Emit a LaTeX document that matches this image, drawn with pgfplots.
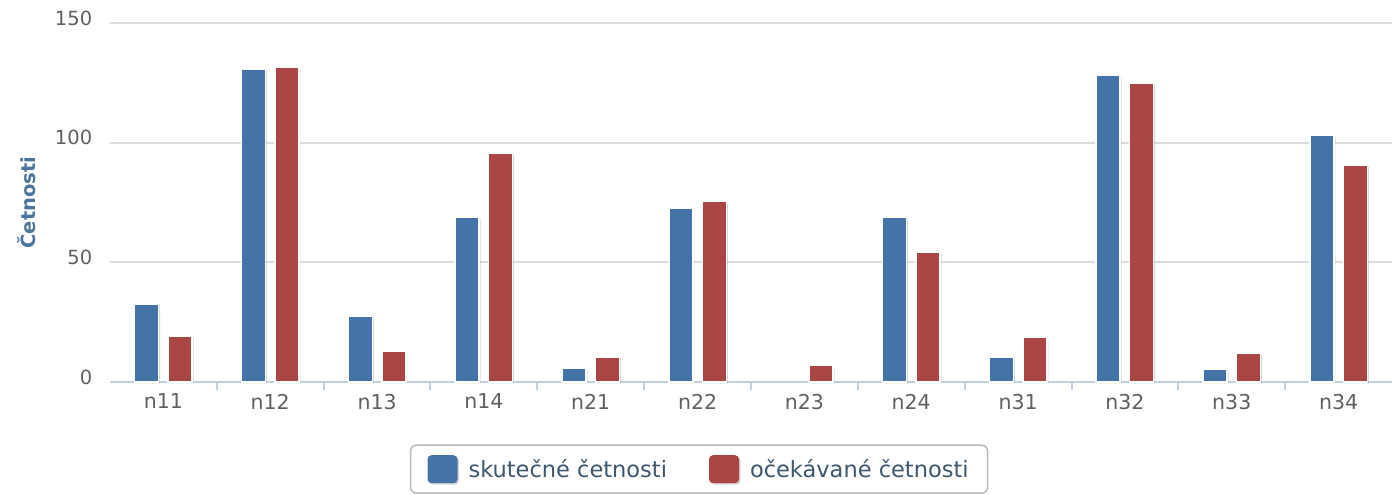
\documentclass[border=0pt]{standalone}
\usepackage{pgfplots}
\pgfplotsset{compat=1.18}
\usepackage{fontspec}
\setmainfont{DejaVu Sans}
\usetikzlibrary{shadows}
\definecolor{hcblue}{HTML}{4572A7}
\definecolor{hcred}{HTML}{AA4643}
\definecolor{axlab}{HTML}{4D759E}
\definecolor{ticklab}{HTML}{606060}
\definecolor{gridc}{HTML}{DCDCDC}
\definecolor{axline}{HTML}{C0D0E0}
\definecolor{legtext}{HTML}{3E576F}
\begin{document}
\begin{tikzpicture}
\begin{axis}[
  scale only axis, width=1282pt, height=359pt,
  xmin=-0.5, xmax=11.5, ymin=0, ymax=150,
  ybar=9.5pt, bar width=24pt,
  axis x line*=bottom, axis y line*=left,
  y axis line style={draw=none},
  x axis line style={draw=axline, line width=2pt, -},
  ytick={0,50,100,150},
  ymajorgrids, major grid style={draw=gridc, line width=2pt},
  ytick style={draw=none},
  yticklabel style={font=\fontsize{19.5}{19.5}\selectfont, text=ticklab, anchor=east, xshift=-10pt, yshift=5pt},
  /pgf/number format/assume math mode=true,
  xtick={0,...,11},
  xticklabels={n11,n12,n13,n14,n21,n22,n23,n24,n31,n32,n33,n34},
  major x tick style={draw=none},
  minor xtick={0.5,1.5,...,10.5},
  minor tick length=8pt, tick align=outside,
  minor x tick style={draw=axline, line width=2pt},
  xticklabel style={font=\fontsize{20.5}{20.5}\selectfont, text=ticklab, yshift=-4pt},
  ylabel={Četnosti},
  ylabel style={font=\bfseries\fontsize{19.5}{19.5}\selectfont, text=axlab, at={(axis description cs:-0.065,0.5)}, anchor=center},
  legend style={at={(axis description cs:0.4595,-0.174)}, anchor=north, legend columns=2,
    draw=gray!55, rounded corners=6pt, line width=1.5pt,
    font=\fontsize{22.5}{22.5}\selectfont, text=legtext, inner xsep=17pt, inner ysep=10pt,
    /tikz/every odd column/.append style={column sep=9pt},
    /tikz/every even column/.append style={column sep=40pt}},
  legend image code/.code={\fill[rounded corners=4pt, draw=none] (0pt,-14pt) rectangle (30pt,14pt);},
  legend cell align=left,
  clip=false,
]
\addplot[fill=hcblue, draw=white, line width=1.5pt,
  drop shadow={shadow xshift=1.5pt, shadow yshift=-1.5pt, fill=black, opacity=0.18}]
  coordinates {(0,32.5) (1,130.8) (2,27.5) (3,68.7) (4,5.6) (5,72.8) (7,68.8) (8,10.3) (9,128.2) (10,5.4) (11,103)};
\addplot[fill=hcred, draw=white, line width=1.5pt,
  drop shadow={shadow xshift=1.5pt, shadow yshift=-1.5pt, fill=black, opacity=0.18}]
  coordinates {(0,19.3) (1,131.6) (2,12.8) (3,95.5) (4,10.5) (5,75.5) (6,7.1) (7,54.2) (8,18.5) (9,124.8) (10,12) (11,90.5)};
\legend{skutečné četnosti, očekávané četnosti}
\end{axis}
\path (current axis.south west) ++(-110pt,-113pt) (current axis.north west) ++(1283pt,23pt);
\end{tikzpicture}
\end{document}
